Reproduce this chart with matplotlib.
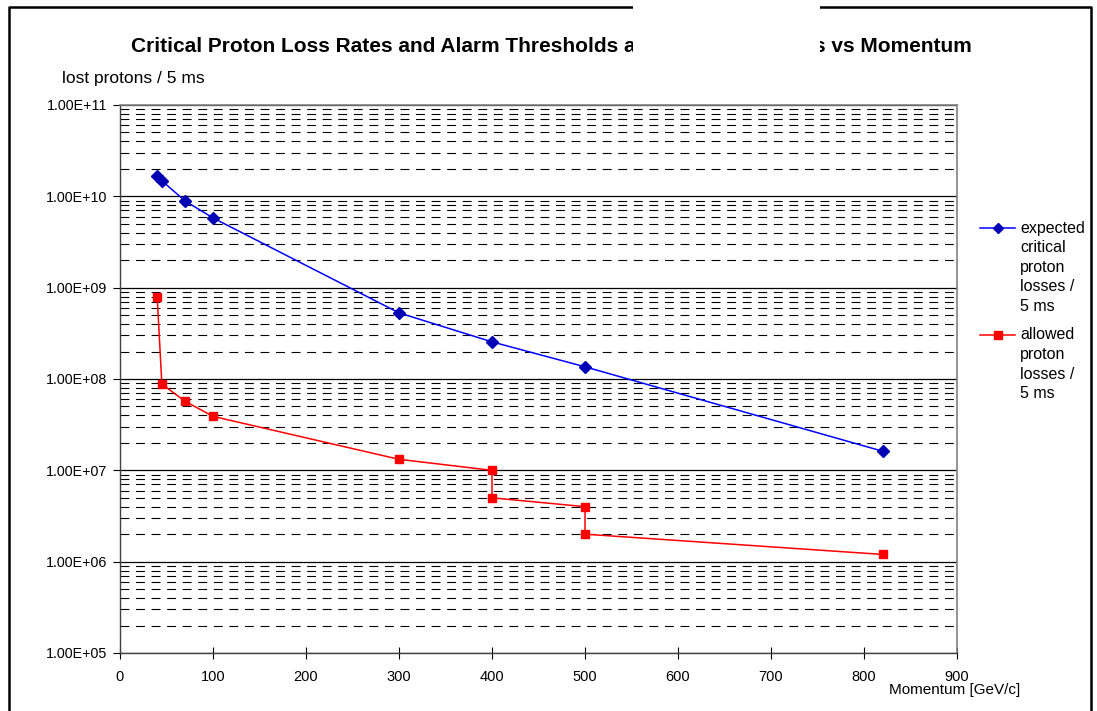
"""Critical proton loss rates vs momentum, log scale chart."""

import matplotlib

matplotlib.use("Agg")
import matplotlib.pyplot as plt  # noqa: E402
from matplotlib.lines import Line2D  # noqa: E402
from matplotlib.patches import Rectangle  # noqa: E402
from matplotlib.ticker import FuncFormatter, LogLocator, MultipleLocator  # noqa: E402

plt.rcParams["font.family"] = ["Liberation Sans", "DejaVu Sans"]

# values
expected_momentum = [40, 45, 70, 100, 300, 400, 500, 820]
expected_losses = [1.68e10, 1.48e10, 8.9e9, 5.8e9, 5.3e8, 2.55e8, 1.36e8, 1.62e7]

allowed_momentum = [40, 45, 70, 100, 300, 400, 400, 500, 500, 820]
allowed_losses = [7.9e8, 8.8e7, 5.7e7, 3.9e7, 1.32e7, 1.0e7, 5.0e6, 4.0e6, 2.0e6, 1.2e6]

expected_label = ["expected", "critical", "proton", "losses /", "5 ms"]
allowed_label = ["allowed", "proton", "losses /", "5 ms"]

W, H = 1097, 711
fig = plt.figure(figsize=(W / 100, H / 100), dpi=100)
ax = fig.add_axes([120 / W, 1 - 653 / H, (957 - 120) / W, (653 - 105) / H])

ax.plot(expected_momentum, expected_losses, color="#0000ff", lw=1.1,
        marker="D", markersize=6.5, markerfacecolor="#0000b4", markeredgecolor="#0000b4",
        zorder=4)
ax.plot(allowed_momentum, allowed_losses, color="#ff0000", lw=1.1,
        marker="s", markersize=6, markerfacecolor="#ff0000", markeredgecolor="#ff0000",
        zorder=4)

ax.set_yscale("log")
ax.set_ylim(1e5, 1e11)
ax.set_xlim(0, 900)
ax.xaxis.set_major_locator(MultipleLocator(100))
ax.yaxis.set_major_locator(LogLocator(base=10, numticks=10))
ax.yaxis.set_minor_locator(LogLocator(base=10, subs=range(2, 10), numticks=100))
ax.yaxis.set_major_formatter(FuncFormatter(lambda v, _: f"{v:.2E}"))
ax.yaxis.set_minor_formatter(FuncFormatter(lambda v, _: ""))

ax.grid(which="major", axis="y", color="black", lw=0.9, ls="-")
ax.grid(which="minor", axis="y", color="black", lw=0.8, ls=(0, (8, 6)))
ax.grid(which="major", axis="x", visible=False)
ax.set_axisbelow(True)

for side in ("top", "right"):
    ax.spines[side].set_color("#808080")
    ax.spines[side].set_linewidth(1.2)
for side in ("left", "bottom"):
    ax.spines[side].set_color("#404040")
    ax.spines[side].set_linewidth(1.0)

ax.tick_params(axis="x", direction="inout", length=9, width=0.8, labelsize=10.5, pad=8)
ax.tick_params(axis="y", which="major", direction="out", length=5, width=0.8, labelsize=10.3, pad=4)
ax.tick_params(axis="y", which="minor", length=0)

fig.text(62 / W, 1 - 79 / H, "lost protons / 5 ms", fontsize=12.5, va="center", ha="left")
fig.text(1020 / W, 1 - 690 / H, "Momentum [GeV/c]", fontsize=11, va="center", ha="right")

# title (partly hidden by a white box in the reference)
fig.text(131 / W, 1 - 47 / H, "Critical Proton Loss Rates and Alarm Thresholds at",
         fontsize=15, fontweight="bold", va="center", ha="left")
fig.text(972 / W, 1 - 47 / H, "s vs Momentum",
         fontsize=15, fontweight="bold", va="center", ha="right")

# outer frame
fig.add_artist(Line2D([9 / W, 9 / W, 1091 / W, 1091 / W], [0, 1 - 7 / H, 1 - 7 / H, 0],
                      color="black", lw=1.8, transform=fig.transFigure))
fig.add_artist(Rectangle((633 / W, 1 - 62 / H), (820 - 633) / W, 62 / H,
                         transform=fig.transFigure, facecolor="white",
                         edgecolor="none", zorder=10))

# legend drawn by hand so the key sits on the first text line
legend_entries = [
    (228, "#0000ff", "D", "#0000b4", 5, expected_label),
    (335, "#ff0000", "s", "#ff0000", 6, allowed_label),
]
for y, color, marker, mface, msize, lines in legend_entries:
    yf = 1 - y / H
    fig.add_artist(Line2D([980 / W, 1015 / W], [yf, yf], color=color, lw=1.1,
                          transform=fig.transFigure))
    fig.add_artist(Line2D([997.5 / W], [yf], marker=marker, markersize=msize,
                          markerfacecolor=mface, markeredgecolor=mface, color=color,
                          transform=fig.transFigure))
    for i, line in enumerate(lines):
        fig.text(1020 / W, 1 - (y + 19.5 * i) / H, line, fontsize=11.5,
                 va="center", ha="left")

fig.savefig("out.png", dpi=100)
